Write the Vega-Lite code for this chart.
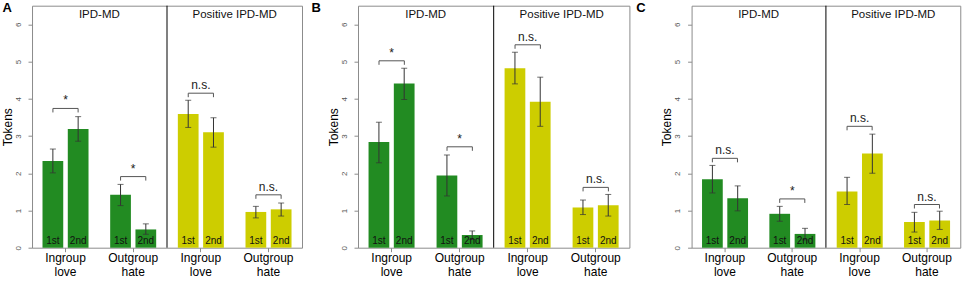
{
  "$schema": "https://vega.github.io/schema/vega-lite/v6.json",
  "padding": {"left": 0, "top": 0.7, "right": 4, "bottom": 2},
  "config": {
    "font": "Liberation Sans",
    "view": {"stroke": "#8c8c8c", "strokeWidth": 1},
    "axisY": {"values": [0,1,2,3,4,5,6], "tickSize": 4, "tickColor": "#8c8c8c", "domain": false, "grid": false, "labelAngle": -90, "labelAlign": "center", "labelBaseline": "middle", "labelFontSize": 8, "labelColor": "#555555", "labelPadding": 10, "titleFontSize": 12, "titleFontWeight": "normal", "titleColor": "#000000", "titlePadding": 0},
    "axisX": {"tickSize": 4, "tickColor": "#8c8c8c", "domain": false, "grid": false, "labelFontSize": 12, "labelColor": "#000000", "labelAngle": 0, "labelPadding": 1, "labelLineHeight": 13.4, "labelBaseline": "top"},
    "title": {"anchor": "start", "frame": "group", "baseline": "alphabetic", "fontSize": 13, "fontWeight": "bold", "color": "#000000"}
  },
  "datasets": {
    "bars": [
      {"panel": "A", "game": "IPD-MD", "cond": "IPD-MD: Ingroup love", "wave": "1st", "value": 2.33, "lo": 2.01, "hi": 2.65},
      {"panel": "A", "game": "IPD-MD", "cond": "IPD-MD: Ingroup love", "wave": "2nd", "value": 3.19, "lo": 2.86, "hi": 3.52},
      {"panel": "A", "game": "IPD-MD", "cond": "IPD-MD: Outgroup hate", "wave": "1st", "value": 1.42, "lo": 1.13, "hi": 1.70},
      {"panel": "A", "game": "IPD-MD", "cond": "IPD-MD: Outgroup hate", "wave": "2nd", "value": 0.49, "lo": 0.36, "hi": 0.64},
      {"panel": "A", "game": "Positive IPD-MD", "cond": "Positive IPD-MD: Ingroup love", "wave": "1st", "value": 3.59, "lo": 3.23, "hi": 3.96},
      {"panel": "A", "game": "Positive IPD-MD", "cond": "Positive IPD-MD: Ingroup love", "wave": "2nd", "value": 3.10, "lo": 2.70, "hi": 3.49},
      {"panel": "A", "game": "Positive IPD-MD", "cond": "Positive IPD-MD: Outgroup hate", "wave": "1st", "value": 0.96, "lo": 0.80, "hi": 1.11},
      {"panel": "A", "game": "Positive IPD-MD", "cond": "Positive IPD-MD: Outgroup hate", "wave": "2nd", "value": 1.03, "lo": 0.85, "hi": 1.20},
      {"panel": "B", "game": "IPD-MD", "cond": "IPD-MD: Ingroup love", "wave": "1st", "value": 2.84, "lo": 2.28, "hi": 3.37},
      {"panel": "B", "game": "IPD-MD", "cond": "IPD-MD: Ingroup love", "wave": "2nd", "value": 4.41, "lo": 3.98, "hi": 4.82},
      {"panel": "B", "game": "IPD-MD", "cond": "IPD-MD: Outgroup hate", "wave": "1st", "value": 1.94, "lo": 1.39, "hi": 2.49},
      {"panel": "B", "game": "IPD-MD", "cond": "IPD-MD: Outgroup hate", "wave": "2nd", "value": 0.34, "lo": 0.22, "hi": 0.45},
      {"panel": "B", "game": "Positive IPD-MD", "cond": "Positive IPD-MD: Ingroup love", "wave": "1st", "value": 4.82, "lo": 4.40, "hi": 5.25},
      {"panel": "B", "game": "Positive IPD-MD", "cond": "Positive IPD-MD: Ingroup love", "wave": "2nd", "value": 3.92, "lo": 3.26, "hi": 4.58},
      {"panel": "B", "game": "Positive IPD-MD", "cond": "Positive IPD-MD: Outgroup hate", "wave": "1st", "value": 1.08, "lo": 0.89, "hi": 1.28},
      {"panel": "B", "game": "Positive IPD-MD", "cond": "Positive IPD-MD: Outgroup hate", "wave": "2nd", "value": 1.14, "lo": 0.85, "hi": 1.43},
      {"panel": "C", "game": "IPD-MD", "cond": "IPD-MD: Ingroup love", "wave": "1st", "value": 1.84, "lo": 1.47, "hi": 2.21},
      {"panel": "C", "game": "IPD-MD", "cond": "IPD-MD: Ingroup love", "wave": "2nd", "value": 1.33, "lo": 0.99, "hi": 1.66},
      {"panel": "C", "game": "IPD-MD", "cond": "IPD-MD: Outgroup hate", "wave": "1st", "value": 0.91, "lo": 0.71, "hi": 1.11},
      {"panel": "C", "game": "IPD-MD", "cond": "IPD-MD: Outgroup hate", "wave": "2nd", "value": 0.37, "lo": 0.21, "hi": 0.52},
      {"panel": "C", "game": "Positive IPD-MD", "cond": "Positive IPD-MD: Ingroup love", "wave": "1st", "value": 1.51, "lo": 1.16, "hi": 1.89},
      {"panel": "C", "game": "Positive IPD-MD", "cond": "Positive IPD-MD: Ingroup love", "wave": "2nd", "value": 2.53, "lo": 2.00, "hi": 3.05},
      {"panel": "C", "game": "Positive IPD-MD", "cond": "Positive IPD-MD: Outgroup hate", "wave": "1st", "value": 0.69, "lo": 0.42, "hi": 0.95},
      {"panel": "C", "game": "Positive IPD-MD", "cond": "Positive IPD-MD: Outgroup hate", "wave": "2nd", "value": 0.73, "lo": 0.49, "hi": 0.98}
    ],
    "sig": [
      {"panel": "A", "cond": "IPD-MD: Ingroup love", "level": 3.74, "label": "*"},
      {"panel": "A", "cond": "IPD-MD: Outgroup hate", "level": 1.91, "label": "*"},
      {"panel": "A", "cond": "Positive IPD-MD: Ingroup love", "level": 4.15, "label": "n.s."},
      {"panel": "A", "cond": "Positive IPD-MD: Outgroup hate", "level": 1.42, "label": "n.s."},
      {"panel": "B", "cond": "IPD-MD: Ingroup love", "level": 5.02, "label": "*"},
      {"panel": "B", "cond": "IPD-MD: Outgroup hate", "level": 2.71, "label": "*"},
      {"panel": "B", "cond": "Positive IPD-MD: Ingroup love", "level": 5.45, "label": "n.s."},
      {"panel": "B", "cond": "Positive IPD-MD: Outgroup hate", "level": 1.62, "label": "n.s."},
      {"panel": "C", "cond": "IPD-MD: Ingroup love", "level": 2.40, "label": "n.s."},
      {"panel": "C", "cond": "IPD-MD: Outgroup hate", "level": 1.31, "label": "*"},
      {"panel": "C", "cond": "Positive IPD-MD: Ingroup love", "level": 3.26, "label": "n.s."},
      {"panel": "C", "cond": "Positive IPD-MD: Outgroup hate", "level": 1.16, "label": "n.s."}
    ],
    "headers": [
      {"cond": "IPD-MD: Ingroup love", "label": "IPD-MD", "top": 6.25},
      {"cond": "Positive IPD-MD: Ingroup love", "label": "Positive IPD-MD", "top": 6.25}
    ],
    "divider": [
      {"cond": "IPD-MD: Outgroup hate"}
    ]
  },
  "bounds": "flush",
  "spacing": 56,
  "hconcat": [
    {
      "width": 270, "height": 242,
      "title": {"text": "A", "dx": -29.6, "offset": -9.6},
      "encoding": {
        "x": {"field": "cond", "type": "nominal", "sort": ["IPD-MD: Ingroup love", "IPD-MD: Outgroup hate", "Positive IPD-MD: Ingroup love", "Positive IPD-MD: Outgroup hate"], "scale": {"paddingInner": 0.32, "paddingOuter": 0.155}, "axis": {"title": null, "labelExpr": "split(split(datum.label, ': ')[1], ' ')"}}
      },
      "layer": [
        {"data": {"name": "bars"}, "transform": [{"filter": "datum.panel == 'A'"}], "mark": {"type": "bar"},
         "encoding": {"xOffset": {"field": "wave", "type": "nominal", "scale": {"paddingInner": 0.18, "paddingOuter": 0}}, "y": {"field": "value", "type": "quantitative", "title": "Tokens", "scale": {"domain": [0, 6.5], "nice": false}, "axis": {"title": "Tokens"}}, "color": {"field": "game", "type": "nominal", "scale": {"domain": ["IPD-MD", "Positive IPD-MD"], "range": ["#228B22", "#CDCD00"]}, "legend": null}}},
        {"data": {"name": "bars"}, "transform": [{"filter": "datum.panel == 'A'"}], "mark": {"type": "rule", "color": "#333333", "strokeWidth": 1},
         "encoding": {"xOffset": {"field": "wave", "type": "nominal"}, "y": {"field": "lo", "type": "quantitative", "title": "Tokens"}, "y2": {"field": "hi"}}},
        {"data": {"name": "bars"}, "transform": [{"filter": "datum.panel == 'A'"}], "mark": {"type": "tick", "color": "#333333", "size": 6, "thickness": 1},
         "encoding": {"xOffset": {"field": "wave", "type": "nominal"}, "y": {"field": "lo", "type": "quantitative", "title": "Tokens"}}},
        {"data": {"name": "bars"}, "transform": [{"filter": "datum.panel == 'A'"}], "mark": {"type": "tick", "color": "#333333", "size": 6, "thickness": 1},
         "encoding": {"xOffset": {"field": "wave", "type": "nominal"}, "y": {"field": "hi", "type": "quantitative", "title": "Tokens"}}},
        {"data": {"name": "bars"}, "transform": [{"filter": "datum.panel == 'A'"}], "mark": {"type": "text", "fontSize": 10, "color": "#111111", "baseline": "alphabetic", "dy": -4},
         "encoding": {"xOffset": {"field": "wave", "type": "nominal"}, "y": {"datum": 0, "type": "quantitative", "title": "Tokens"}, "text": {"field": "wave"}}},
        {"data": {"name": "sig"}, "transform": [{"filter": "datum.panel == 'A'"}], "mark": {"type": "rule", "color": "#555555"},
         "encoding": {"x": {"field": "cond", "type": "nominal", "bandPosition": 0.226}, "x2": {"field": "cond", "bandPosition": 0.774}, "y": {"field": "level", "type": "quantitative", "title": "Tokens"}}},
        {"data": {"name": "sig"}, "transform": [{"filter": "datum.panel == 'A'"}], "mark": {"type": "rule", "color": "#555555", "y2Offset": 4},
         "encoding": {"x": {"field": "cond", "type": "nominal", "bandPosition": 0.226}, "y": {"field": "level", "type": "quantitative", "title": "Tokens"}, "y2": {"field": "level"}}},
        {"data": {"name": "sig"}, "transform": [{"filter": "datum.panel == 'A'"}], "mark": {"type": "rule", "color": "#555555", "y2Offset": 4},
         "encoding": {"x": {"field": "cond", "type": "nominal", "bandPosition": 0.774}, "y": {"field": "level", "type": "quantitative", "title": "Tokens"}, "y2": {"field": "level"}}},
        {"data": {"name": "sig"}, "transform": [{"filter": "datum.panel == 'A'"}], "mark": {"type": "text", "fontSize": 12, "color": "#222222", "baseline": "alphabetic", "dy": -4},
         "encoding": {"x": {"field": "cond", "type": "nominal", "bandPosition": 0.5}, "y": {"field": "level", "type": "quantitative", "title": "Tokens"}, "text": {"field": "label"}}},
        {"data": {"name": "headers"}, "mark": {"type": "text", "fontSize": 11.5, "color": "#111111", "baseline": "middle"},
         "encoding": {"x": {"field": "cond", "type": "nominal", "bandPosition": 1.235}, "y": {"field": "top", "type": "quantitative", "title": "Tokens"}, "text": {"field": "label"}}},
        {"data": {"name": "divider"}, "mark": {"type": "rule", "color": "#000000", "strokeWidth": 1},
         "encoding": {"x": {"field": "cond", "type": "nominal", "bandPosition": 1.235}}}
      ]
    },
    {
      "bounds": "flush",
      "spacing": 61.6,
      "hconcat": [
        {
          "width": 271.4, "height": 242,
          "title": {"text": "B", "dx": -46.6, "offset": -9.6},
          "encoding": {
            "x": {"field": "cond", "type": "nominal", "sort": ["IPD-MD: Ingroup love", "IPD-MD: Outgroup hate", "Positive IPD-MD: Ingroup love", "Positive IPD-MD: Outgroup hate"], "scale": {"paddingInner": 0.32, "paddingOuter": 0.155}, "axis": {"title": null, "labelExpr": "split(split(datum.label, ': ')[1], ' ')"}}
          },
          "layer": [
            {"data": {"name": "bars"}, "transform": [{"filter": "datum.panel == 'B'"}], "mark": {"type": "bar"},
             "encoding": {"xOffset": {"field": "wave", "type": "nominal", "scale": {"paddingInner": 0.18, "paddingOuter": 0}}, "y": {"field": "value", "type": "quantitative", "title": "Tokens", "scale": {"domain": [0, 6.5], "nice": false}, "axis": {"title": "Tokens"}}, "color": {"field": "game", "type": "nominal", "scale": {"domain": ["IPD-MD", "Positive IPD-MD"], "range": ["#228B22", "#CDCD00"]}, "legend": null}}},
            {"data": {"name": "bars"}, "transform": [{"filter": "datum.panel == 'B'"}], "mark": {"type": "rule", "color": "#333333", "strokeWidth": 1},
             "encoding": {"xOffset": {"field": "wave", "type": "nominal"}, "y": {"field": "lo", "type": "quantitative", "title": "Tokens"}, "y2": {"field": "hi"}}},
            {"data": {"name": "bars"}, "transform": [{"filter": "datum.panel == 'B'"}], "mark": {"type": "tick", "color": "#333333", "size": 6, "thickness": 1},
             "encoding": {"xOffset": {"field": "wave", "type": "nominal"}, "y": {"field": "lo", "type": "quantitative", "title": "Tokens"}}},
            {"data": {"name": "bars"}, "transform": [{"filter": "datum.panel == 'B'"}], "mark": {"type": "tick", "color": "#333333", "size": 6, "thickness": 1},
             "encoding": {"xOffset": {"field": "wave", "type": "nominal"}, "y": {"field": "hi", "type": "quantitative", "title": "Tokens"}}},
            {"data": {"name": "bars"}, "transform": [{"filter": "datum.panel == 'B'"}], "mark": {"type": "text", "fontSize": 10, "color": "#111111", "baseline": "alphabetic", "dy": -4},
             "encoding": {"xOffset": {"field": "wave", "type": "nominal"}, "y": {"datum": 0, "type": "quantitative", "title": "Tokens"}, "text": {"field": "wave"}}},
            {"data": {"name": "sig"}, "transform": [{"filter": "datum.panel == 'B'"}], "mark": {"type": "rule", "color": "#555555"},
             "encoding": {"x": {"field": "cond", "type": "nominal", "bandPosition": 0.226}, "x2": {"field": "cond", "bandPosition": 0.774}, "y": {"field": "level", "type": "quantitative", "title": "Tokens"}}},
            {"data": {"name": "sig"}, "transform": [{"filter": "datum.panel == 'B'"}], "mark": {"type": "rule", "color": "#555555", "y2Offset": 4},
             "encoding": {"x": {"field": "cond", "type": "nominal", "bandPosition": 0.226}, "y": {"field": "level", "type": "quantitative", "title": "Tokens"}, "y2": {"field": "level"}}},
            {"data": {"name": "sig"}, "transform": [{"filter": "datum.panel == 'B'"}], "mark": {"type": "rule", "color": "#555555", "y2Offset": 4},
             "encoding": {"x": {"field": "cond", "type": "nominal", "bandPosition": 0.774}, "y": {"field": "level", "type": "quantitative", "title": "Tokens"}, "y2": {"field": "level"}}},
            {"data": {"name": "sig"}, "transform": [{"filter": "datum.panel == 'B'"}], "mark": {"type": "text", "fontSize": 12, "color": "#222222", "baseline": "alphabetic", "dy": -4},
             "encoding": {"x": {"field": "cond", "type": "nominal", "bandPosition": 0.5}, "y": {"field": "level", "type": "quantitative", "title": "Tokens"}, "text": {"field": "label"}}},
            {"data": {"name": "headers"}, "mark": {"type": "text", "fontSize": 11.5, "color": "#111111", "baseline": "middle"},
             "encoding": {"x": {"field": "cond", "type": "nominal", "bandPosition": 1.235}, "y": {"field": "top", "type": "quantitative", "title": "Tokens"}, "text": {"field": "label"}}},
            {"data": {"name": "divider"}, "mark": {"type": "rule", "color": "#000000", "strokeWidth": 1},
             "encoding": {"x": {"field": "cond", "type": "nominal", "bandPosition": 1.235}}}
          ]
        },
        {
          "width": 268.7, "height": 242,
          "title": {"text": "C", "dx": -55.3, "offset": -9.6},
          "encoding": {
            "x": {"field": "cond", "type": "nominal", "sort": ["IPD-MD: Ingroup love", "IPD-MD: Outgroup hate", "Positive IPD-MD: Ingroup love", "Positive IPD-MD: Outgroup hate"], "scale": {"paddingInner": 0.32, "paddingOuter": 0.155}, "axis": {"title": null, "labelExpr": "split(split(datum.label, ': ')[1], ' ')"}}
          },
          "layer": [
            {"data": {"name": "bars"}, "transform": [{"filter": "datum.panel == 'C'"}], "mark": {"type": "bar"},
             "encoding": {"xOffset": {"field": "wave", "type": "nominal", "scale": {"paddingInner": 0.18, "paddingOuter": 0}}, "y": {"field": "value", "type": "quantitative", "title": "Tokens", "scale": {"domain": [0, 6.5], "nice": false}, "axis": {"title": "Tokens"}}, "color": {"field": "game", "type": "nominal", "scale": {"domain": ["IPD-MD", "Positive IPD-MD"], "range": ["#228B22", "#CDCD00"]}, "legend": null}}},
            {"data": {"name": "bars"}, "transform": [{"filter": "datum.panel == 'C'"}], "mark": {"type": "rule", "color": "#333333", "strokeWidth": 1},
             "encoding": {"xOffset": {"field": "wave", "type": "nominal"}, "y": {"field": "lo", "type": "quantitative", "title": "Tokens"}, "y2": {"field": "hi"}}},
            {"data": {"name": "bars"}, "transform": [{"filter": "datum.panel == 'C'"}], "mark": {"type": "tick", "color": "#333333", "size": 6, "thickness": 1},
             "encoding": {"xOffset": {"field": "wave", "type": "nominal"}, "y": {"field": "lo", "type": "quantitative", "title": "Tokens"}}},
            {"data": {"name": "bars"}, "transform": [{"filter": "datum.panel == 'C'"}], "mark": {"type": "tick", "color": "#333333", "size": 6, "thickness": 1},
             "encoding": {"xOffset": {"field": "wave", "type": "nominal"}, "y": {"field": "hi", "type": "quantitative", "title": "Tokens"}}},
            {"data": {"name": "bars"}, "transform": [{"filter": "datum.panel == 'C'"}], "mark": {"type": "text", "fontSize": 10, "color": "#111111", "baseline": "alphabetic", "dy": -4},
             "encoding": {"xOffset": {"field": "wave", "type": "nominal"}, "y": {"datum": 0, "type": "quantitative", "title": "Tokens"}, "text": {"field": "wave"}}},
            {"data": {"name": "sig"}, "transform": [{"filter": "datum.panel == 'C'"}], "mark": {"type": "rule", "color": "#555555"},
             "encoding": {"x": {"field": "cond", "type": "nominal", "bandPosition": 0.226}, "x2": {"field": "cond", "bandPosition": 0.774}, "y": {"field": "level", "type": "quantitative", "title": "Tokens"}}},
            {"data": {"name": "sig"}, "transform": [{"filter": "datum.panel == 'C'"}], "mark": {"type": "rule", "color": "#555555", "y2Offset": 4},
             "encoding": {"x": {"field": "cond", "type": "nominal", "bandPosition": 0.226}, "y": {"field": "level", "type": "quantitative", "title": "Tokens"}, "y2": {"field": "level"}}},
            {"data": {"name": "sig"}, "transform": [{"filter": "datum.panel == 'C'"}], "mark": {"type": "rule", "color": "#555555", "y2Offset": 4},
             "encoding": {"x": {"field": "cond", "type": "nominal", "bandPosition": 0.774}, "y": {"field": "level", "type": "quantitative", "title": "Tokens"}, "y2": {"field": "level"}}},
            {"data": {"name": "sig"}, "transform": [{"filter": "datum.panel == 'C'"}], "mark": {"type": "text", "fontSize": 12, "color": "#222222", "baseline": "alphabetic", "dy": -4},
             "encoding": {"x": {"field": "cond", "type": "nominal", "bandPosition": 0.5}, "y": {"field": "level", "type": "quantitative", "title": "Tokens"}, "text": {"field": "label"}}},
            {"data": {"name": "headers"}, "mark": {"type": "text", "fontSize": 11.5, "color": "#111111", "baseline": "middle"},
             "encoding": {"x": {"field": "cond", "type": "nominal", "bandPosition": 1.235}, "y": {"field": "top", "type": "quantitative", "title": "Tokens"}, "text": {"field": "label"}}},
            {"data": {"name": "divider"}, "mark": {"type": "rule", "color": "#000000", "strokeWidth": 1},
             "encoding": {"x": {"field": "cond", "type": "nominal", "bandPosition": 1.235}}}
          ]
        }
      ]
    }
  ]
}
